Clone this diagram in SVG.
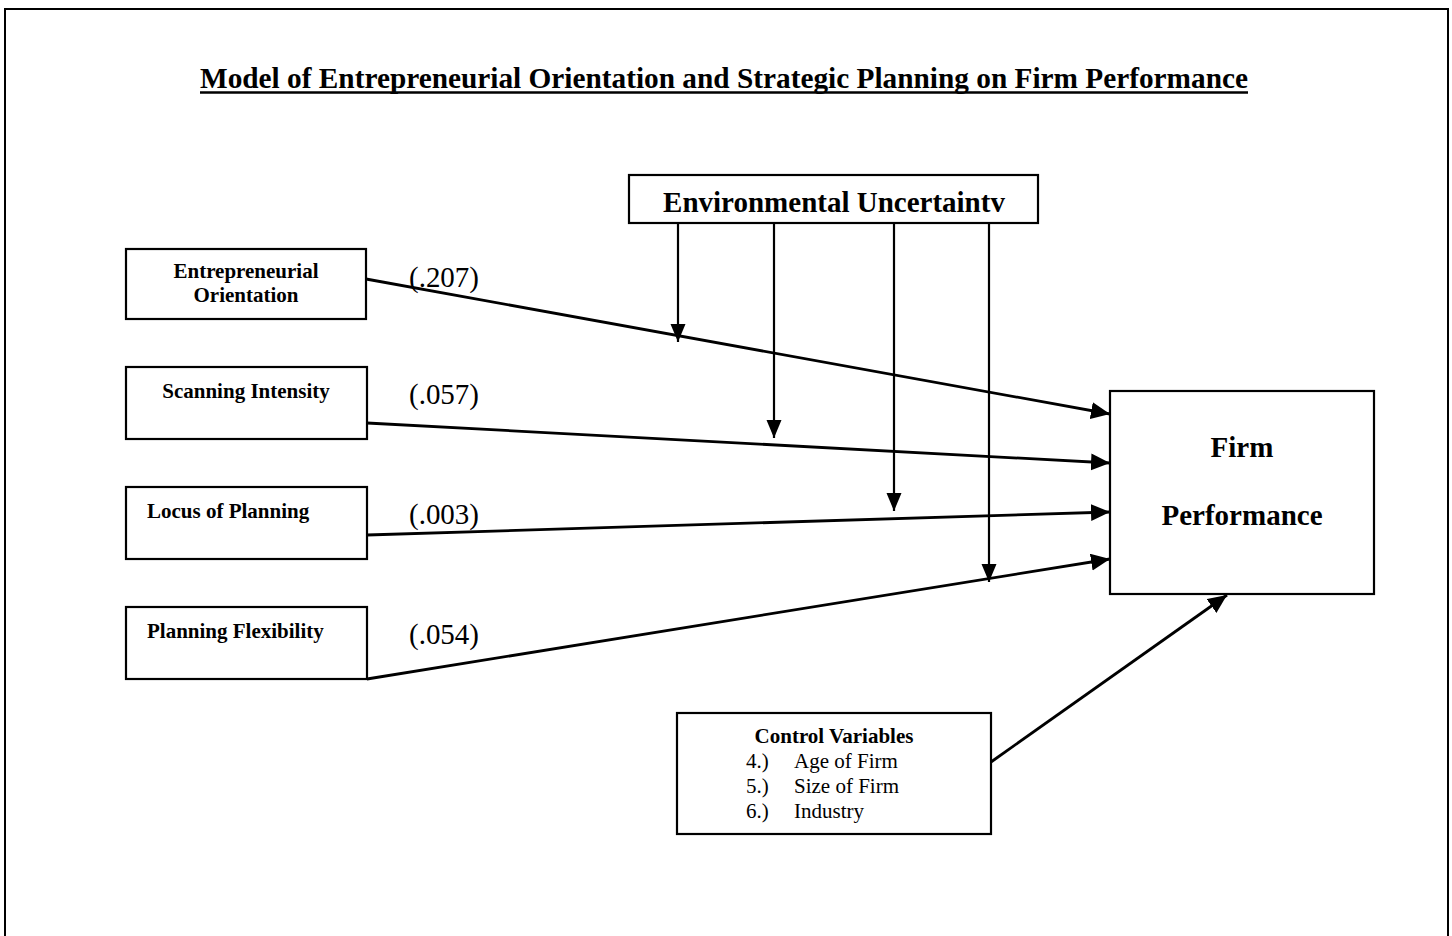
<svg xmlns="http://www.w3.org/2000/svg" width="1452" height="936" viewBox="0 0 1452 936">
  <style>
    .box { fill: #ffffff; stroke: #000000; stroke-width: 2.2; }
    .frame { fill: none; stroke: #000000; stroke-width: 2; }
    .t { font-family: "Liberation Serif", "Times New Roman", serif; fill: #000000; }
    .b { font-weight: bold; }
    .big { font-size: 29px; }
    .small { font-size: 21px; }
    .link { stroke: #000000; stroke-width: 2.8; fill: none; marker-end: url(#head); }
    .mod { stroke: #000000; stroke-width: 2.2; fill: none; marker-end: url(#headDown); }
  </style>
  <defs>
    <marker id="head" markerUnits="userSpaceOnUse" markerWidth="20" markerHeight="18" refX="19" refY="8.5" orient="auto">
      <path d="M0,0 L19,8.5 L0,17 Z" fill="#000000"/>
    </marker>
    <marker id="headDown" markerUnits="userSpaceOnUse" markerWidth="19" markerHeight="16" refX="18" refY="7.5" orient="auto">
      <path d="M0,0 L18,7.5 L0,15 Z" fill="#000000"/>
    </marker>
  </defs>

  <rect width="1452" height="936" fill="#ffffff"/>
  <!-- page frame -->
  <rect class="frame" x="5" y="9" width="1443" height="940"/>

  <!-- title -->
  <g id="title">
    <text class="t b" font-size="30" x="200" y="88" textLength="1048" lengthAdjust="spacingAndGlyphs">Model of Entrepreneurial Orientation and Strategic Planning on Firm Performance</text>
    <line x1="200" y1="92.5" x2="1248" y2="92.5" stroke="#000000" stroke-width="2.5"/>
  </g>

  <!-- connectors -->
  <g id="connectors">
    <line class="link" x1="366" y1="279" x2="1110" y2="414"/>
    <line class="link" x1="367" y1="423" x2="1110" y2="463"/>
    <line class="link" x1="367" y1="535" x2="1110" y2="512"/>
    <line class="link" x1="367" y1="679" x2="1110" y2="559"/>
    <line class="link" x1="991" y1="762" x2="1227" y2="595"/>
    <line class="mod" x1="678" y1="223" x2="678" y2="342"/>
    <line class="mod" x1="774" y1="223" x2="774" y2="438"/>
    <line class="mod" x1="894" y1="223" x2="894" y2="511"/>
    <line class="mod" x1="989" y1="223" x2="989" y2="582"/>
  </g>

  <!-- path coefficients -->
  <g id="coefficients" class="t big">
    <text x="409" y="287" textLength="70" lengthAdjust="spacingAndGlyphs">(.207)</text>
    <text x="409" y="404" textLength="70" lengthAdjust="spacingAndGlyphs">(.057)</text>
    <text x="409" y="524" textLength="70" lengthAdjust="spacingAndGlyphs">(.003)</text>
    <text x="409" y="644" textLength="70" lengthAdjust="spacingAndGlyphs">(.054)</text>
  </g>

  <g id="node-eo">
    <rect class="box" x="126" y="249" width="240" height="70"/>
    <text class="t b small" x="246" y="278" text-anchor="middle">Entrepreneurial</text>
    <text class="t b small" x="246" y="302" text-anchor="middle">Orientation</text>
  </g>

  <g id="node-scanning">
    <rect class="box" x="126" y="367" width="241" height="72"/>
    <text class="t b small" x="246" y="398" text-anchor="middle">Scanning Intensity</text>
  </g>

  <g id="node-locus">
    <rect class="box" x="126" y="487" width="241" height="72"/>
    <text class="t b small" x="147" y="518">Locus of Planning</text>
  </g>

  <g id="node-flexibility">
    <rect class="box" x="126" y="607" width="241" height="72"/>
    <text class="t b small" x="147" y="638">Planning Flexibility</text>
  </g>

  <g id="node-uncertainty">
    <rect class="box" x="629" y="175" width="409" height="48"/>
    <text class="t b big" x="834" y="212" text-anchor="middle">Environmental Uncertaintv</text>
  </g>

  <g id="node-performance">
    <rect class="box" x="1110" y="391" width="264" height="203"/>
    <text class="t b big" x="1242" y="457" text-anchor="middle">Firm</text>
    <text class="t b big" x="1242" y="525" text-anchor="middle">Performance</text>
  </g>

  <g id="node-controls">
    <rect class="box" x="677" y="713" width="314" height="121"/>
    <text class="t b small" x="834" y="743" text-anchor="middle">Control Variables</text>
    <text class="t small" x="746" y="768">4.)</text>
    <text class="t small" x="794" y="768">Age of Firm</text>
    <text class="t small" x="746" y="793">5.)</text>
    <text class="t small" x="794" y="793">Size of Firm</text>
    <text class="t small" x="746" y="818">6.)</text>
    <text class="t small" x="794" y="818">Industry</text>
  </g>
</svg>
